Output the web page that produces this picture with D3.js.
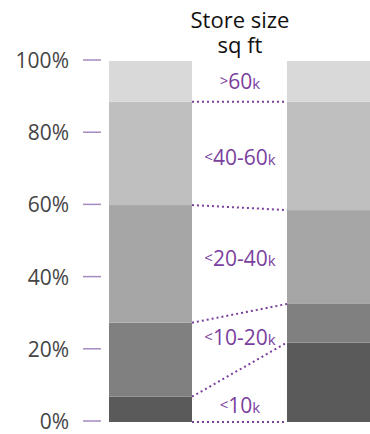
<!DOCTYPE html>
<html>
<head>
<meta charset="utf-8">
<script src="https://cdn.jsdelivr.net/npm/d3@7"></script>
<style>
  body { margin: 0; background: #fff; }
  text { font-family: "Open Sans", sans-serif; }
</style>
</head>
<body>
<svg id="chart" width="370" height="434"></svg>
<script>
// size bands, bottom to top
var bands = ["<10", "<10-20", "<20-40", "<40-60", ">60"];
var leftShares = [7.0, 20.5, 32.6, 28.6, 11.3];
var rightShares = [22.0, 10.7, 26.0, 30.0, 11.3];
var bandColors = ["#5a5a5a", "#808080", "#a6a6a6", "#bfbfbf", "#d9d9d9"];
var tickValues = [0, 20, 40, 60, 80, 100];

var svg = d3.select("#chart");
var purple = "#7b3f9e";

var y = d3.scaleLinear().domain([0, 100]).range([422, 61]);
var x = d3.scaleOrdinal().domain(["left", "right"]).range([109, 287]);
var barW = 83;

function stack(shares) {
	var acc = 0;
	return shares.map(function(v, i) {
		var s = { band: bands[i], y0: acc, y1: acc + v, color: bandColors[i] };
		acc += v;
		return s;
	});
}

var columns = [
	{ key: "left", segs: stack(leftShares) },
	{ key: "right", segs: stack(rightShares) }
];

columns.forEach(function(col) {
	svg.append("g").selectAll("rect")
		.data(col.segs)
		.enter().append("rect")
		.attr("x", x(col.key))
		.attr("width", barW)
		.attr("y", function(d) { return y(d.y1); })
		.attr("height", function(d) { return y(d.y0) - y(d.y1); })
		.attr("fill", function(d) { return d.color; });
});

// y axis
var axis = svg.append("g");
axis.selectAll("line")
	.data(tickValues)
	.enter().append("line")
	.attr("x1", 83).attr("x2", 101)
	.attr("y1", function(d) { return y(d) - 1; })
	.attr("y2", function(d) { return y(d) - 1; })
	.attr("stroke", "#a58bc2")
	.attr("stroke-width", 1.5);
axis.selectAll("text")
	.data(tickValues)
	.enter().append("text")
	.attr("x", 69)
	.attr("y", function(d) { return y(d) + 7; })
	.attr("text-anchor", "end")
	.attr("font-size", 21)
	.attr("fill", "#444")
	.text(function(d) { return d + "%"; });

// dotted connectors between the bars
var lSegs = columns[0].segs, rSegs = columns[1].segs;
var joins = [0, 1, 2, 3, 4];
svg.append("g").selectAll("line")
	.data(joins)
	.enter().append("line")
	.attr("x1", x("left") + barW).attr("x2", x("right"))
	.attr("y1", function(i) { return y(i === 0 ? 0 : lSegs[i - 1].y1); })
	.attr("y2", function(i) { return y(i === 0 ? 0 : rSegs[i - 1].y1); })
	.attr("stroke", purple)
	.attr("stroke-width", 2)
	.attr("stroke-dasharray", "2,3");

// band labels
var labelY = [413, 345, 266, 165, 89];
var labels = svg.append("g").selectAll("text")
	.data(bands)
	.enter().append("text")
	.attr("x", 240)
	.attr("y", function(d, i) { return labelY[i]; })
	.attr("text-anchor", "middle")
	.attr("fill", purple)
	.attr("font-size", 21);
labels.each(function(d) {
	var t = d3.select(this);
	t.append("tspan").attr("font-size", 15).attr("dy", -3).text(d.charAt(0));
	t.append("tspan").attr("dy", 3).text(d.slice(1));
	t.append("tspan").attr("font-size", 15).text("k");
});

// title
var title = svg.append("text")
	.attr("x", 240)
	.attr("text-anchor", "middle")
	.attr("font-size", 22)
	.attr("fill", "#111");
title.append("tspan").attr("x", 240).attr("y", 28).text("Store size");
title.append("tspan").attr("x", 240).attr("y", 53).text("sq ft");
</script>
</body>
</html>
